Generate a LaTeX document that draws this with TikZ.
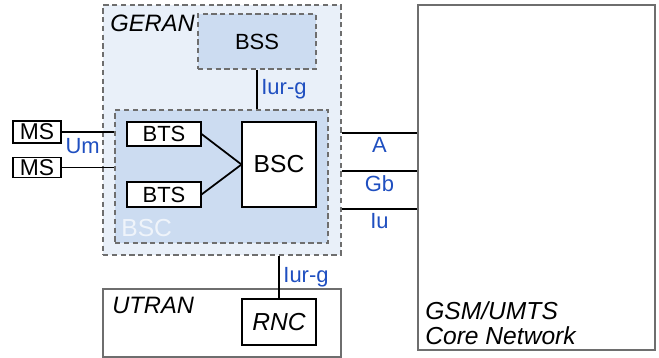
\documentclass[tikz,border=0pt]{standalone}
\usepackage{fontspec}
\setmainfont{Liberation Sans}
\usetikzlibrary{positioning}
\definecolor{geranFill}{HTML}{E9F0F9}
\definecolor{bssFill}{HTML}{CCDCF1}
\definecolor{ifBlue}{HTML}{1F4FC0}
\definecolor{frameGray}{HTML}{6E6E6E}
\newcommand{\fs}[1]{\fontsize{#1}{#1}\selectfont}

\begin{document}
\begin{tikzpicture}[
  area/.style={draw=frameGray, line width=0.6pt, inner sep=0pt},
  blue area/.style={area, densely dashed, fill=bssFill},
  unit/.style={draw, line width=0.6pt, fill=white, inner sep=0pt, font=\fs{12.5}},
  iface/.style={text=ifBlue, font=\fs{12.5}, inner sep=2pt},
  link/.style={line width=1pt},
  title/.style={font=\fs{13.5}\itshape, inner sep=0pt}
]
  \useasboundingbox (0,0) rectangle (13.18,-7.16);

  % GERAN domain
  \node[area, densely dashed, fill=geranFill, minimum width=4.76cm, minimum height=5.0cm] (geran) at (4.44,-2.60) {};
  \node[title, anchor=base west] (geranlbl) at (2.20,-0.64) {GERAN};

  % BSS
  \node[blue area, minimum width=2.36cm, minimum height=1.10cm, font=\fs{12.5}] (bss) at (5.14,-0.83) {BSS};

  % BSC area with BTSs
  \node[blue area, minimum width=4.26cm, minimum height=2.66cm] (bscarea) at (4.43,-3.53) {};
  \node[anchor=base west, inner sep=0pt, text=white, opacity=0.7, font=\fs{14}] (bsclbl) at (2.42,-4.74) {BSC};
  \node[unit, minimum width=1.48cm, minimum height=0.48cm] (bts1) at (3.28,-2.68) {BTS};
  \node[unit, minimum width=1.48cm, minimum height=0.50cm] (bts2) at (3.28,-3.89) {BTS};
  \node[unit, minimum width=1.48cm, minimum height=1.70cm, font=\fs{14}] (bsc) at (5.58,-3.29) {BSC};

  % Mobile stations
  \node[unit, minimum width=0.96cm, minimum height=0.44cm, font=\fs{13}] (ms1) at (0.74,-2.64) {MS};
  \node[unit, minimum width=0.96cm, minimum height=0.40cm, font=\fs{13}] (ms2) at (0.74,-3.35) {MS};

  % UTRAN
  \node[area, minimum width=4.76cm, minimum height=1.36cm] (utran) at (4.44,-6.46) {};
  \node[title, anchor=base west] (utranlbl) at (2.24,-6.28) {UTRAN};
  \node[unit, minimum width=1.48cm, minimum height=0.92cm, font=\fs{14}\itshape] (rnc) at (5.58,-6.44) {RNC};

  % Core network
  \node[area, minimum width=4.74cm, minimum height=6.90cm] (core) at (10.73,-3.55) {};
  \node[title, anchor=base west, font=\fs{14}\itshape] (corelbl1) at (8.50,-6.40) {GSM/UMTS};
  \node[title, anchor=base west, font=\fs{14}\itshape] (corelbl2) at (8.50,-6.90) {Core Network};

  % Links
  \draw[link] (ms1.east) -- node[iface, below=1pt, pos=0.4] {Um} (ms1.east -| bscarea.west);
  \draw[link] (ms2.east) -- (ms2.east -| bscarea.west);
  \draw[link] (bts1.east) -- (bsc.west);
  \draw[link] (bts2.east) -- (bsc.west);
  \draw[link] (bss.south) -- node[iface, right] {Iur-g} (bss.south |- bscarea.north);
  \draw[link] (rnc.north |- geran.south) -- node[iface, right] {Iur-g} (rnc.north);

  % Interfaces to core
  \draw[link] (geran.east |- 0,-2.66) -- node[iface, below] {A} (core.west |- 0,-2.66);
  \draw[link] (geran.east |- 0,-3.42) -- node[iface, below] {Gb} (core.west |- 0,-3.42);
  \draw[link] (geran.east |- 0,-4.18) -- node[iface, below] {Iu} (core.west |- 0,-4.18);

\end{tikzpicture}
\end{document}
